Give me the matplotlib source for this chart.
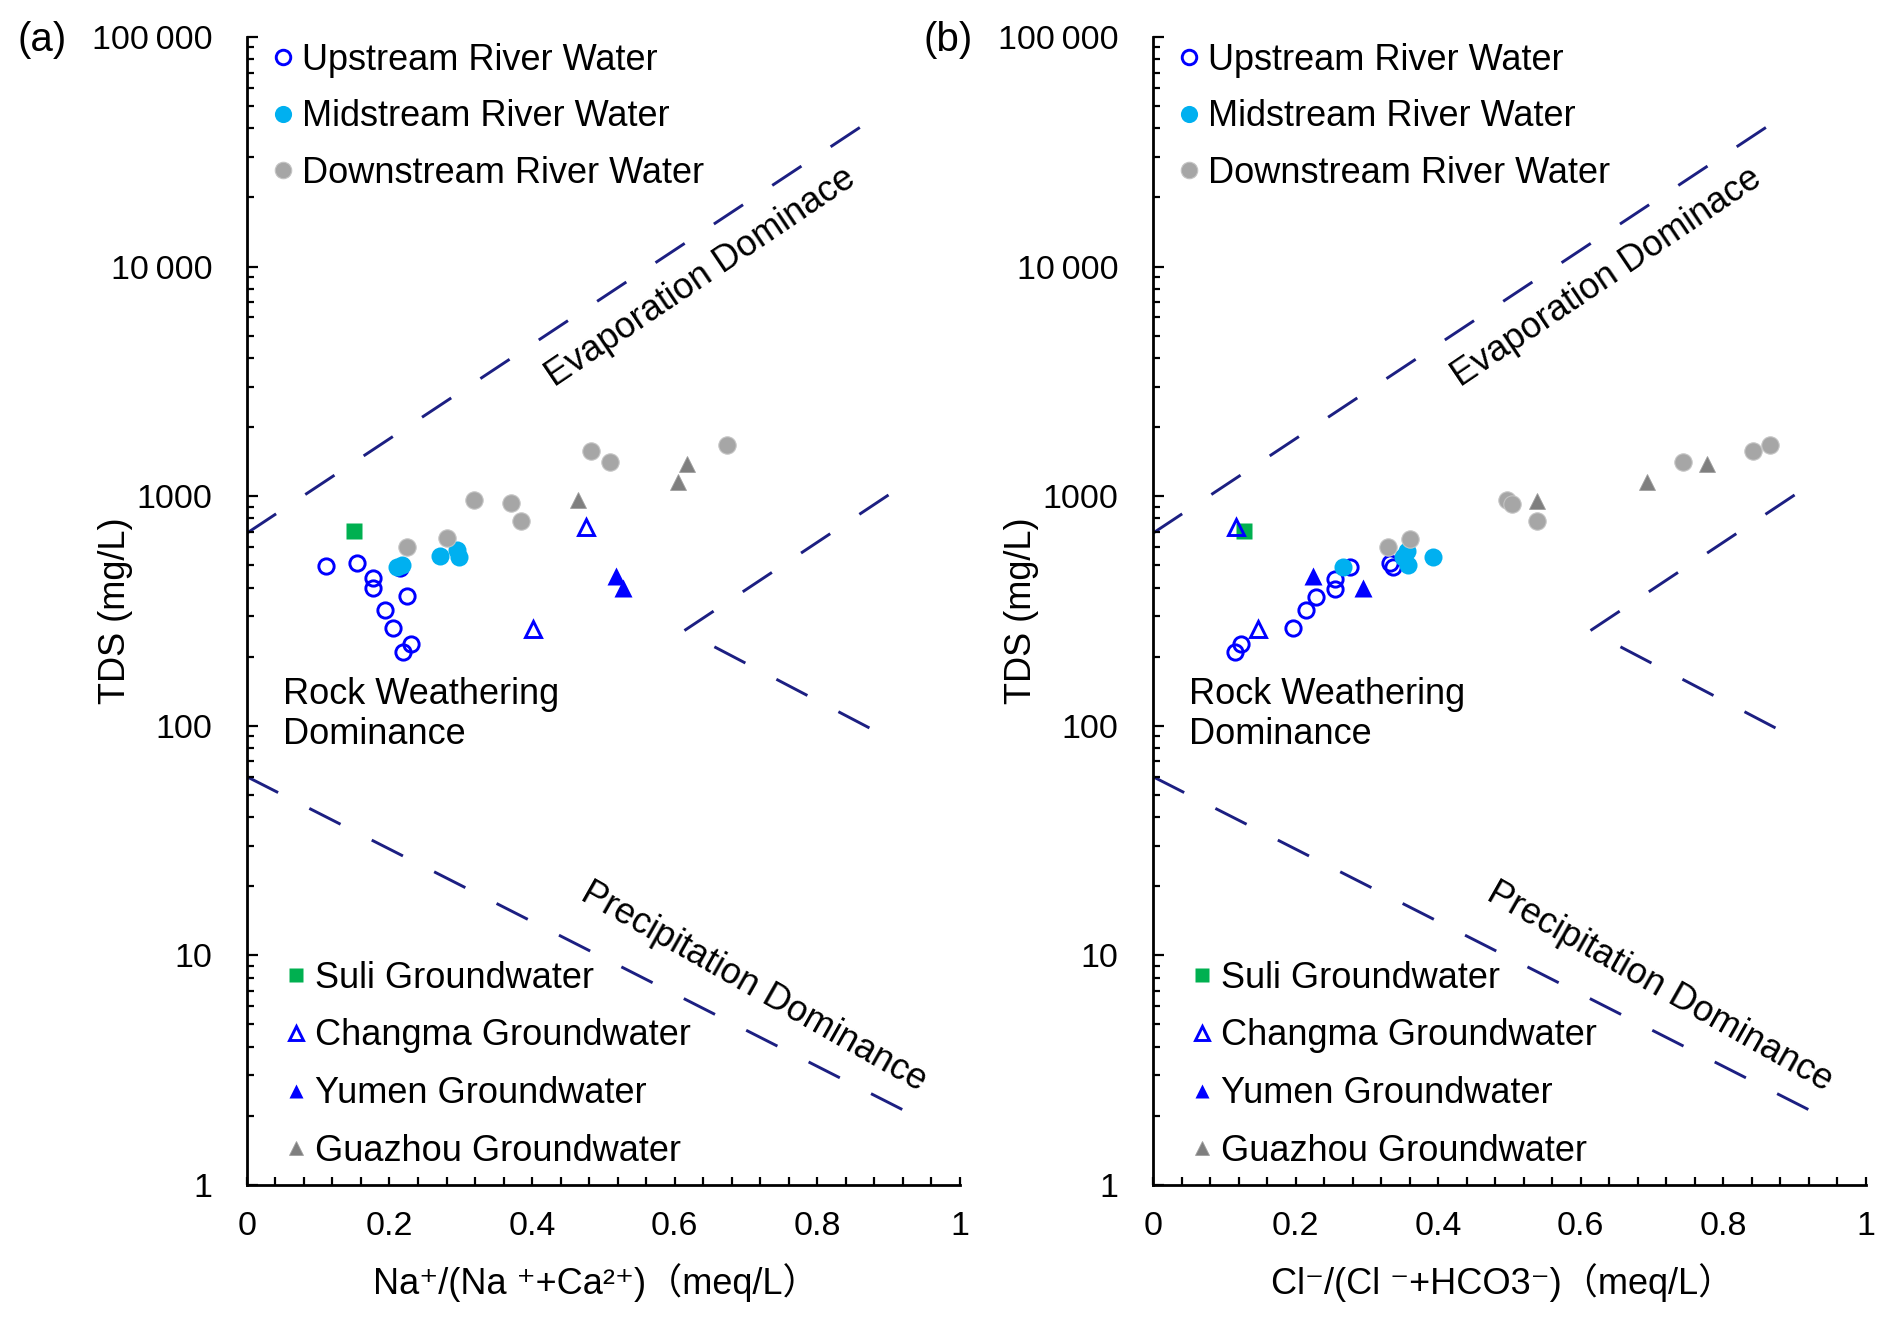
import numpy as np
import matplotlib.pyplot as plt
from matplotlib.ticker import FixedLocator, MultipleLocator, LogLocator, NullFormatter

plt.rcParams['font.family'] = ['Liberation Sans', 'Noto Sans CJK SC', 'DejaVu Sans']

# -------- data --------
# panel (a): Na+/(Na+ + Ca2+)
a_up_x = [0.111, 0.154, 0.177, 0.177, 0.225, 0.194, 0.205, 0.230, 0.219, 0.215]
a_up_y = [497, 513, 439, 397, 367, 319, 266, 227, 210, 485]
a_mid_x = [0.211, 0.218, 0.271, 0.295, 0.298]
a_mid_y = [490, 501, 549, 583, 545]
a_down_x = [0.225, 0.281, 0.319, 0.371, 0.385, 0.483, 0.509, 0.673]
a_down_y = [603, 655, 962, 931, 782, 1578, 1413, 1671]
a_suli_x = [0.150]
a_suli_y = [708]
a_chang_x = [0.476, 0.402]
a_chang_y = [736, 263]
a_yumen_x = [0.518, 0.528]
a_yumen_y = [449, 397]
a_gua_x = [0.465, 0.618, 0.605]
a_gua_y = [962, 1377, 1156]

# panel (b): Cl-/(Cl- + HCO3-)
b_up_x = [0.276, 0.255, 0.255, 0.228, 0.214, 0.197, 0.124, 0.115, 0.333, 0.336]
b_up_y = [493, 434, 393, 365, 319, 266, 227, 209, 513, 493]
b_mid_x = [0.266, 0.357, 0.351, 0.358, 0.393]
b_mid_y = [493, 579, 542, 499, 545]
b_down_x = [0.329, 0.361, 0.497, 0.503, 0.539, 0.743, 0.842, 0.865]
b_down_y = [600, 652, 962, 925, 782, 1413, 1578, 1671]
b_suli_x = [0.127]
b_suli_y = [707]
b_chang_x = [0.116, 0.148]
b_chang_y = [736, 263]
b_yumen_x = [0.224, 0.295]
b_yumen_y = [449, 397]
b_gua_x = [0.538, 0.693, 0.777]
b_gua_y = [955, 1156, 1377]

# Gibbs boundary lines (same on both panels)
evap_x = [0.0, 0.892]
evap_y = [690, 47000]
wedge_x = [0.900, 0.613, 0.900]
wedge_y = [1012, 259, 88.5]
prec_x = [0.0, 0.926]
prec_y = [60, 2.08]

yticks = [1, 10, 100, 1000, 10000, 100000]
ytick_labels = ['1', '10', '100', '1000', '10\u2009000', '100\u2009000']
xticks = [0, 0.2, 0.4, 0.6, 0.8, 1]
xtick_labels = ['0', '0.2', '0.4', '0.6', '0.8', '1']

upper_names = ['Upstream River Water', 'Midstream River Water', 'Downstream River Water']
lower_names = ['Suli Groundwater', 'Changma Groundwater', 'Yumen Groundwater', 'Guazhou Groundwater']

blue = '#0000ff'
cyan = '#00b0f0'
grey = '#a6a6a6'
green = '#00b050'
dgrey = '#7f7f7f'
navy = '#1c1f82'
fs = 26
tfs = 24.5

fig = plt.figure(figsize=(18.92, 13.24), dpi=100)
ax_a = fig.add_axes([0.1305, 0.105, 0.3768, 0.8671])
ax_b = fig.add_axes([0.6094, 0.105, 0.3768, 0.8671])

panels = [
    (ax_a, '(a)', 'Na\u207a/(Na \u207a+Ca\u00b2\u207a)（meq/L）',
     a_up_x, a_up_y, a_mid_x, a_mid_y, a_down_x, a_down_y, a_suli_x, a_suli_y,
     a_chang_x, a_chang_y, a_yumen_x, a_yumen_y, a_gua_x, a_gua_y),
    (ax_b, '(b)', 'Cl\u207b/(Cl \u207b+HCO3\u207b)（meq/L）',
     b_up_x, b_up_y, b_mid_x, b_mid_y, b_down_x, b_down_y, b_suli_x, b_suli_y,
     b_chang_x, b_chang_y, b_yumen_x, b_yumen_y, b_gua_x, b_gua_y),
]

for (ax, tag, xlab, upx, upy, mdx, mdy, dnx, dny, sux, suy,
     chx, chy, yux, yuy, gux, guy) in panels:
    ax.set_yscale('log')
    ax.set_xlim(0, 1)
    ax.set_ylim(1, 100000)

    # boundary lines
    for lx, ly in [(evap_x, evap_y), (wedge_x, wedge_y), (prec_x, prec_y)]:
        ax.plot(lx, ly, color=navy, lw=2.1, dashes=(12, 12), zorder=1)

    # samples
    h_up, = ax.plot(upx, upy, 'o', ms=11, mfc='none', mec=blue, mew=2.1, ls='none')
    h_md, = ax.plot(mdx, mdy, 'o', ms=13, mfc=cyan, mec='none', ls='none')
    h_dn, = ax.plot(dnx, dny, 'o', ms=12.5, mfc=grey, mec='#c4c4c4', mew=0.8, ls='none')
    h_su, = ax.plot(sux, suy, 's', ms=12, mfc=green, mec='none', ls='none')
    h_ch, = ax.plot(chx, chy, '^', ms=11.5, mfc='none', mec=blue, mew=2.1, ls='none')
    h_yu, = ax.plot(yux, yuy, '^', ms=12.5, mfc=blue, mec='none', ls='none')
    h_gu, = ax.plot(gux, guy, '^', ms=12, mfc=dgrey, mec='#a0a0a0', mew=0.6, ls='none')

    leg1 = ax.legend([h_up, h_md, h_dn], upper_names, loc='upper left',
                     bbox_to_anchor=(0.038, 0.995), frameon=False, fontsize=fs,
                     handlelength=0.5, handletextpad=0.27, labelspacing=0.6,
                     borderpad=0, borderaxespad=0, markerscale=0.95)
    ax.add_artist(leg1)
    ax.legend([h_su, h_ch, h_yu, h_gu], lower_names, loc='lower left',
              bbox_to_anchor=(0.056, 0.014), frameon=False, fontsize=fs,
              handlelength=0.5, handletextpad=0.27, labelspacing=0.63,
              borderpad=0, borderaxespad=0, markerscale=0.85)

    ax.text(0.637, 9000, 'Evaporation Dominace', rotation=34, fontsize=fs,
            ha='center', va='center', rotation_mode='anchor')
    ax.text(0.711, 7.3, 'Precipitation Dominance', rotation=-29.5, fontsize=fs,
            ha='center', va='center', rotation_mode='anchor')
    ax.text(0.05, 112, 'Rock Weathering\nDominance', fontsize=fs,
            ha='left', va='center', linespacing=1.2)

    ax.text(-0.322, 0.997, tag, transform=ax.transAxes, fontsize=29,
            ha='left', va='center')

    # axes styling
    for s in ['top', 'right']:
        ax.spines[s].set_visible(False)
    for s in ['left', 'bottom']:
        ax.spines[s].set_linewidth(2)

    ax.yaxis.set_major_locator(FixedLocator(yticks))
    ax.set_yticklabels(ytick_labels)
    ax.yaxis.set_minor_locator(LogLocator(base=10, subs=np.arange(2, 10), numticks=20))
    ax.yaxis.set_minor_formatter(NullFormatter())
    ax.xaxis.set_major_locator(FixedLocator(xticks))
    ax.set_xticklabels(xtick_labels)
    ax.xaxis.set_minor_locator(MultipleLocator(0.04))

    ax.tick_params(axis='y', which='major', direction='in', length=8, width=1.6,
                   labelsize=tfs, pad=25)
    ax.tick_params(axis='y', which='minor', direction='in', length=5, width=1.6)
    ax.tick_params(axis='x', which='major', direction='in', length=5.5, width=1.6,
                   labelsize=tfs, pad=19)
    ax.tick_params(axis='x', which='minor', direction='in', length=5.5, width=1.6)

    ax.set_ylabel('TDS (mg/L)', fontsize=fs)
    ax.yaxis.set_label_coords(-0.16, 0.5)
    ax.set_xlabel(xlab, fontsize=fs)
    ax.xaxis.set_label_coords(0.49, -0.068)

fig.savefig('out.png', dpi=100)
